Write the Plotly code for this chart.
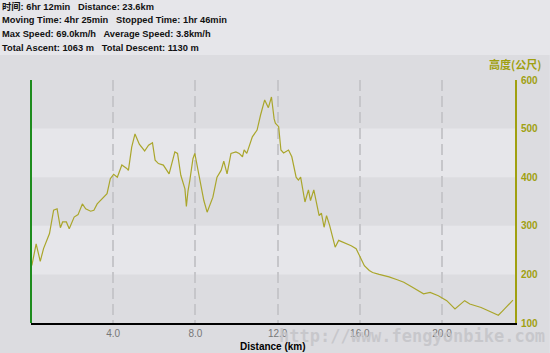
import plotly.graph_objects as go

# ---- data ----
distance_km = [0.0, 0.05, 0.25, 0.45, 0.61, 0.9, 1.1, 1.27, 1.43, 1.54, 1.72, 1.86, 2.1, 2.29, 2.5,
               2.66, 2.9, 3.06, 3.22, 3.54, 3.7, 3.86, 4.02, 4.2, 4.42, 4.66, 4.74, 4.9, 5.06, 5.27,
               5.53, 5.72, 5.91, 6.04, 6.2, 6.44, 6.72, 7.0, 7.13, 7.29, 7.49, 7.56, 7.6, 7.64, 7.73,
               7.88, 7.97, 8.09, 8.25, 8.41, 8.57, 8.85, 9.05, 9.25, 9.38, 9.54, 9.73, 9.97, 10.13,
               10.29, 10.37, 10.5, 10.77, 11.0, 11.17, 11.37, 11.55, 11.7, 11.83, 11.89, 12.05, 12.16,
               12.29, 12.53, 12.69, 12.9, 13.01, 13.12, 13.33, 13.5, 13.6, 13.76, 14.02, 14.13, 14.26,
               14.38, 14.53, 14.8, 14.97, 15.21, 15.58, 15.82, 16.0, 16.22, 16.46, 16.62, 16.94, 17.42,
               17.82, 18.14, 18.54, 19.1, 19.42, 19.82, 20.23, 20.63, 21.1, 21.35, 21.9, 22.3, 22.55,
               22.74, 22.95, 23.45]
elevation_m = [215, 220, 263, 227, 253, 284, 332, 335, 296, 308, 308, 294, 318, 323, 345,
               335, 330, 332, 345, 358, 366, 397, 406, 400, 425, 418, 414, 462, 489, 468,
               454, 466, 471, 435, 428, 425, 407, 452, 449, 404, 376, 340, 362, 372, 394,
               438, 449, 421, 383, 352, 328, 359, 400, 414, 433, 407, 449, 452, 449,
               442, 456, 449, 483, 497, 528, 559, 543, 565, 520, 511, 504, 456,
               450, 456, 442, 400, 394, 400, 349, 374, 352, 374, 321, 326, 297,
               321, 301, 256, 270, 266, 259, 253, 238, 218, 208, 204, 200, 195,
               189, 184, 174, 160, 163, 156, 146, 129, 146, 139, 132, 125, 119,
               116, 125, 147]

x_tick_vals = [4, 8, 12, 16, 20]
x_tick_text = ["4.0", "8.0", "12.0", "16.0", "20.0"]
y_tick_vals = [100, 200, 300, 400, 500, 600]
y_tick_text = ["100", "200", "300", "400", "500", "600"]
info_lines = [
    "时间: 6hr 12min   Distance: 23.6km",
    "Moving Time: 4hr 25min   Stopped Time: 1hr 46min",
    "Max Speed: 69.0km/h   Average Speed: 3.8km/h",
    "Total Ascent: 1063 m   Total Descent: 1130 m",
]
x_title = "Distance (km)"
y_title = "高度(公尺)"
watermark = "http://www.fengyonbike.com"

# ---- layout geometry ----
W, H = 550, 353
ML, MR, MT, MB = 31, 30, 80, 30
PW, PH = W - ML - MR, H - MT - MB


def px2x(px):
    return (px - ML) / PW


def px2y(py):
    return (H - MB - py) / PH


LIGHT = "#e6e6ea"
DARK = "#dcdce0"
OLIVE = "#a0a010"
LINE = "#aaa62c"

fig = go.Figure()
fig.add_trace(go.Scatter(x=distance_km, y=elevation_m, mode="lines",
                         line=dict(color=LINE, width=1.2), hoverinfo="skip",
                         showlegend=False))

shapes = [
    # dark chart area below the text header
    dict(type="rect", xref="paper", yref="paper", x0=px2x(-5), x1=px2x(W + 5),
         y0=px2y(H + 5), y1=px2y(55), fillcolor=DARK, line=dict(width=0), layer="below"),
    # lighter bands
    dict(type="rect", xref="paper", yref="y", x0=0, x1=1, y0=400, y1=500,
         fillcolor=LIGHT, line=dict(width=0), layer="below"),
    dict(type="rect", xref="paper", yref="y", x0=0, x1=1, y0=200, y1=300,
         fillcolor=LIGHT, line=dict(width=0), layer="below"),
    # green left axis line
    dict(type="line", xref="paper", yref="paper", x0=0, x1=0, y0=0, y1=1,
         line=dict(color="#1e8c1e", width=2), layer="above"),
]

annotations = []
for i, t in enumerate(info_lines):
    annotations.append(dict(text=t, xref="paper", yref="paper", x=px2x(0), y=px2y(6 + 14 * i),
                            xanchor="left", yanchor="middle", showarrow=False,
                            font=dict(family="Liberation Sans, Noto Sans CJK SC", size=9.3,
                                      color="#111111", weight="bold")))
annotations.append(dict(text=x_title, xref="paper", yref="paper", x=px2x(275), y=px2y(346),
                        xanchor="center", yanchor="middle", showarrow=False,
                        font=dict(family="Liberation Sans", size=10, color="#000000", weight="bold")))
annotations.append(dict(text=y_title, xref="paper", yref="paper", x=px2x(548), y=px2y(64),
                        xanchor="right", yanchor="middle", showarrow=False,
                        font=dict(family="Noto Sans CJK SC", size=11, color=OLIVE, weight="bold")))
annotations.append(dict(text=watermark, xref="paper", yref="paper", x=px2x(416), y=px2y(336),
                        xanchor="center", yanchor="middle", showarrow=False,
                        font=dict(family="DejaVu Sans Mono", size=17, color="rgba(196,196,200,0.85)",
                                  weight="bold")))

fig.update_layout(
    width=W, height=H,
    margin=dict(l=ML, r=MR, t=MT, b=MB, pad=0),
    paper_bgcolor=LIGHT, plot_bgcolor=DARK,
    shapes=shapes, annotations=annotations,
    xaxis=dict(range=[0, 23.55], tickvals=x_tick_vals, ticktext=x_tick_text,
               showgrid=True, gridcolor="#c6c6ca", gridwidth=1.5, griddash="11px,5px",
               showline=True, linecolor="#000000", linewidth=2, ticks="",
               tickfont=dict(family="Liberation Sans", size=10, color="#777777"),
               zeroline=False, fixedrange=True),
    yaxis=dict(range=[100, 600], side="right", tickvals=y_tick_vals, ticktext=y_tick_text,
               showgrid=False, zeroline=False, showline=True, linecolor=OLIVE, linewidth=2,
               ticks="", ticklabelstandoff=2,
               tickfont=dict(family="Liberation Sans", size=10, color=OLIVE, weight="bold"),
               fixedrange=True),
)

fig.write_html("out.html")
